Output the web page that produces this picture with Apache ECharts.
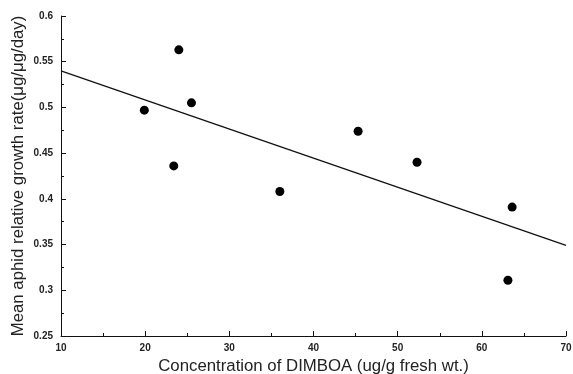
<!DOCTYPE html>
<html><head><meta charset="utf-8">
<script src="https://cdn.jsdelivr.net/npm/echarts@6/dist/echarts.min.js"></script>
<style>html,body{margin:0;padding:0;background:#fff}#c{width:573px;height:374px}</style>
</head><body><div id="c"></div>
<script>
const dimboa = [19.9, 24.0, 25.5, 23.4, 36.0, 45.3, 52.3, 63.6, 63.1];
const growthRate = [0.497, 0.563, 0.505, 0.436, 0.408, 0.474, 0.440, 0.391, 0.311];
const fitX = [10, 70];
const fitY = [0.540, 0.349];
const xTitle = 'Concentration of DIMBOA (ug/g fresh wt.)';
const yTitle = 'Mean aphid relative growth rate(μg/μg/day)';

const chart = echarts.init(document.getElementById('c'), null, {renderer:'canvas'});
const axisCommon = {
  axisLine:{show:true, onZero:false, lineStyle:{color:'#111', width:1}},
  axisTick:{show:true, inside:true, length:5, lineStyle:{color:'#111'}},
  minorTick:{show:true, splitNumber:2, length:3, lineStyle:{color:'#111'}},
  splitLine:{show:false},
  axisLabel:{color:'#222', fontFamily:'Liberation Sans, Arial', fontSize:10, fontWeight:'bold'},
  nameTextStyle:{color:'#222', fontFamily:'Liberation Sans, Arial', fontSize:16.8}
};
chart.setOption({
  animation:false,
  grid:{left:61, right:7, top:16, bottom:38, containLabel:false, outerBoundsMode:'none'},
  xAxis:Object.assign({}, axisCommon, {
    type:'value', min:10, max:70, interval:10,
    name:xTitle, nameLocation:'middle', nameGap:22,
    axisLabel:Object.assign({}, axisCommon.axisLabel, {margin:7})
  }),
  yAxis:Object.assign({}, axisCommon, {
    type:'value', min:0.25, max:0.6, interval:0.05,
    name:yTitle, nameLocation:'middle', nameGap:34, nameMoveOverlap:false,
    axisLabel:Object.assign({}, axisCommon.axisLabel, {margin:8, formatter:v=>String(+v.toFixed(2))})
  }),
  series:[
    {type:'line', data:fitX.map((x,i)=>[x, fitY[i]]), showSymbol:false, symbol:'none',
     lineStyle:{color:'#111', width:1.3}},
    {type:'scatter', data:dimboa.map((x,i)=>[x, growthRate[i]]), symbolSize:9,
     itemStyle:{color:'#000', opacity:1}}
  ]
});
</script></body></html>
